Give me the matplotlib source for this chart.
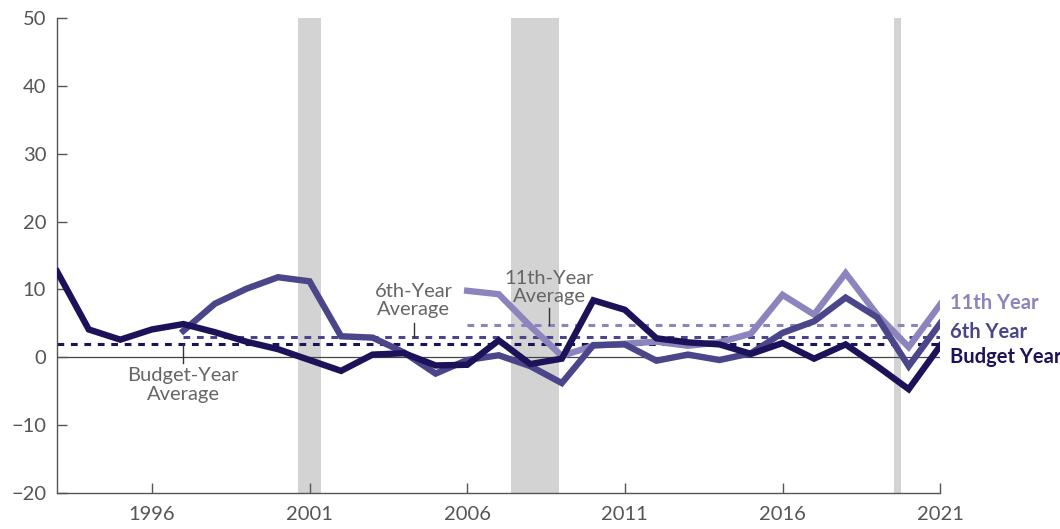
import matplotlib.pyplot as plt
import numpy as np

plt.rcParams['font.family'] = ['Lato', 'DejaVu Sans']

# data
years = list(range(1993, 2022))
budget_year = [12.6, 4.1, 2.6, 4.1, 4.9, 3.7, 2.3, 1.2, -0.4, -2.0, 0.4, 0.6,
               -1.2, -1.1, 2.5, -1.0, -0.2, 8.4, 7.0, 2.8, 2.2, 1.9, 0.5,
               2.1, -0.2, 1.9, -1.3, -4.7, 1.7]
sixth_year = [np.nan] * 4 + [3.9, 7.9, 10.1, 11.8, 11.2, 3.1, 2.9, 0.7, -2.4,
                             -0.4, 0.3, -1.3, -3.8, 1.8, 1.9, -0.5, 0.4, -0.4,
                             0.6, 3.6, 5.3, 8.8, 5.9, -1.3, 5.0]
eleventh_year = [np.nan] * 13 + [9.8, 9.3, 4.6, 0.2, 1.7, 2.0, 2.3, 1.7, 2.2,
                                 3.5, 9.2, 6.3, 12.4, 6.3, 1.5, 7.8]

avg_budget = 1.9
avg_sixth = 3.0
avg_eleventh = 4.8

recessions = [(2000.65, 2001.35), (2007.4, 2008.9), (2019.55, 2019.75)]

yticks = [-20, -10, 0, 10, 20, 30, 40, 50]
xticks = [1996, 2001, 2006, 2011, 2016, 2021]

c_dark = '#1c1259'
c_mid = '#4b4589'
c_light = '#8c84bd'
grey = '#555555'

fig, ax = plt.subplots(figsize=(10.6, 5.29), dpi=100)
fig.subplots_adjust(left=0.054, right=0.887, top=0.966, bottom=0.068)

for a, b in recessions:
    ax.axvspan(a, b, color='#d3d3d3', lw=0, zorder=0)

ax.axhline(0, color='#444444', lw=0.9, zorder=1)

# averages
ax.plot([1993, 2021], [avg_budget] * 2, color=c_dark, lw=2.2, ls=(0, (2.2, 2.2)), zorder=2)
ax.plot([1997, 2021], [avg_sixth] * 2, color=c_mid, lw=2.2, ls=(0, (2.2, 2.2)), zorder=2)
ax.plot([2006, 2021], [avg_eleventh] * 2, color=c_light, lw=2.2, ls=(0, (2.2, 2.2)), zorder=2)

ax.plot(years, eleventh_year, color=c_light, lw=4.6, solid_joinstyle='miter', zorder=3)
ax.plot(years, sixth_year, color=c_mid, lw=4.6, solid_joinstyle='miter', zorder=4)
ax.plot(years, budget_year, color=c_dark, lw=4.6, solid_joinstyle='miter', zorder=5)

# average callouts
ax.plot([1997, 1997], [avg_budget, -0.9], color='#333333', lw=1)
ax.text(1997, -1.5, 'Budget-Year\nAverage', ha='center', va='top', color='#666666',
        fontsize=14.5, linespacing=1.1)
ax.plot([2004.3, 2004.3], [avg_sixth, 5.0], color='#333333', lw=1)
ax.text(2004.3, 5.8, '6th-Year\nAverage', ha='center', va='bottom', color='#666666',
        fontsize=14.5, linespacing=1.1)
ax.plot([2008.6, 2008.6], [avg_eleventh, 7.3], color='#333333', lw=1)
ax.text(2008.6, 7.7, '11th-Year\nAverage', ha='center', va='bottom', color='#666666',
        fontsize=14.5, linespacing=1.1)

# series labels
ax.text(2021.3, 8.0, '11th Year', color=c_light, fontsize=14.5, fontweight='bold', va='center')
ax.text(2021.3, 3.8, '6th Year', color=c_mid, fontsize=14.5, fontweight='bold', va='center')
ax.text(2021.3, 0.0, 'Budget Year', color=c_dark, fontsize=14.5, fontweight='bold',
        va='center', clip_on=False)

ax.set_xlim(1993, 2021)
ax.set_ylim(-20, 50)
ax.set_xticks(xticks)
ax.set_yticks(yticks)
ax.set_yticklabels([str(v).replace('-', '\u2212') for v in yticks])
ax.tick_params(axis='both', direction='in', color=grey, labelcolor=grey, labelsize=14.5,
               length=7, width=1)
ax.tick_params(axis='x', pad=9)
ax.tick_params(axis='y', pad=8)
for s in ['top', 'right']:
    ax.spines[s].set_visible(False)
for s in ['left', 'bottom']:
    ax.spines[s].set_color(grey)
    ax.spines[s].set_linewidth(1)

fig.savefig('out.png', dpi=100)
